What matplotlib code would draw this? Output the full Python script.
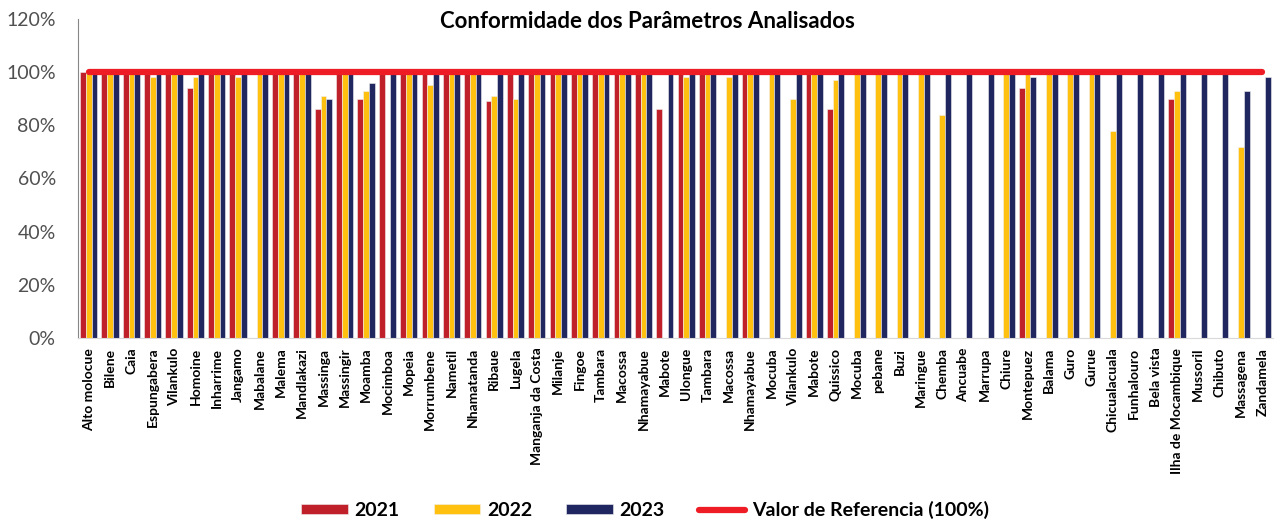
import matplotlib.pyplot as plt
import numpy as np

plt.rcParams['font.family'] = ['Lato', 'DejaVu Sans']

# distritos (alguns nomes repetem, por isso posicoes numericas)
distritos = [
    'Alto molocue', 'Bilene', 'Caia', 'Espungabera', 'Vilankulo', 'Homoine',
    'Inharrime', 'Jangamo', 'Mabalane', 'Malema', 'Mandlakazi', 'Massinga',
    'Massingir', 'Moamba', 'Mocimboa', 'Mopeia', 'Morrumbene', 'Nametil',
    'Nhamatanda', 'Ribaue', 'Lugela', 'Manganja da Costa', 'Milanje', 'Fingoe',
    'Tambara', 'Macossa', 'Nhamayabue', 'Mabote', 'Ulongue', 'Tambara',
    'Macossa', 'Nhamayabue', 'Mocuba', 'Vilankulo', 'Mabote', 'Quissico',
    'Mocuba', 'pebane', 'Buzi', 'Maringue', 'Chemba', 'Ancuabe', 'Marrupa',
    'Chiure', 'Montepuez', 'Balama', 'Guro', 'Gurue', 'Chicualacuala',
    'Funhalouro', 'Bela vista', 'Ilha de Mocambique', 'Mussoril', 'Chibuto',
    'Massagena', 'Zandamela'
]

# conformidade (%) por ano, 0 = sem dados
conf_2021 = [100, 100, 100, 100, 100, 94, 100, 100, 0, 100, 100, 86, 100, 90,
             100, 100, 100, 100, 100, 89, 100, 100, 100, 100, 100, 100, 100, 86,
             100, 100, 0, 100, 0, 0, 100, 86, 0, 0, 0, 0, 0, 0, 0, 0,
             94, 0, 0, 0, 0, 0, 0, 90, 0, 0, 0, 0]
conf_2022 = [100, 100, 100, 98, 100, 98, 100, 98, 100, 100, 100, 91, 100, 93,
             0, 100, 95, 100, 100, 91, 90, 100, 100, 100, 100, 100, 100, 0,
             98, 100, 98, 100, 100, 90, 100, 97, 100, 100, 100, 100, 84, 0, 0, 100,
             100, 100, 100, 100, 78, 0, 0, 93, 0, 0, 72, 0]
conf_2023 = [100, 100, 100, 100, 100, 100, 100, 100, 100, 100, 100, 90, 100, 96,
             100, 100, 100, 100, 100, 100, 100, 100, 100, 100, 100, 100, 100, 100,
             100, 100, 100, 100, 100, 100, 100, 100, 100, 100, 100, 100, 100, 100, 100, 100,
             98, 100, 100, 100, 100, 100, 100, 100, 100, 100, 93, 98]
referencia = [100] * len(distritos)

fig = plt.figure(figsize=(12.8, 5.23), dpi=100)
ax = fig.add_axes([0.061, 0.3537, 0.9335, 0.61])

x = np.arange(len(distritos))
width = 0.27

b1 = ax.bar(x - width, conf_2021, width, color='#C0202A', edgecolor='#f0f0f0', linewidth=0.4, label='2021')
b2 = ax.bar(x, conf_2022, width, color='#FFC010', edgecolor='#f0f0f0', linewidth=0.4, label='2022')
b3 = ax.bar(x + width, conf_2023, width, color='#1F2660', edgecolor='#f0f0f0', linewidth=0.4, label='2023')
l1, = ax.plot(x, referencia, color='#EE1C25', linewidth=4.5, solid_capstyle='round',
              label='Valor de Referencia (100%)', zorder=5)

ax.set_xlim(-0.5, len(distritos) - 0.5)
ax.set_ylim(0, 120)
ax.set_yticks(np.arange(0, 121, 20))
ax.set_yticklabels(['%d%%' % v for v in range(0, 121, 20)], fontsize=14, color='#505050')
ax.set_xticks(x)
ax.set_xticklabels(distritos, rotation=90, fontsize=10, fontweight='bold')
ax.tick_params(axis='both', length=0)
ax.tick_params(axis='x', pad=7)
ax.tick_params(axis='y', pad=16)

for s in ['top', 'right']:
    ax.spines[s].set_visible(False)
ax.spines['left'].set_color('#868686')
ax.spines['bottom'].set_color('#D9D9D9')

fig.text(0.5055, 0.958, 'Conformidade dos Parâmetros Analisados', ha='center', va='center',
         fontsize=16, fontweight='bold')

fig.legend(handles=[b1, b2, b3, l1], loc='center', bbox_to_anchor=(0.504, 0.025), ncol=4,
           frameon=False, prop={'size': 14, 'weight': 'bold'}, handlelength=2.4,
           handleheight=0.45, handletextpad=0.35, columnspacing=1.75)

plt.savefig('out.png', dpi=100)
